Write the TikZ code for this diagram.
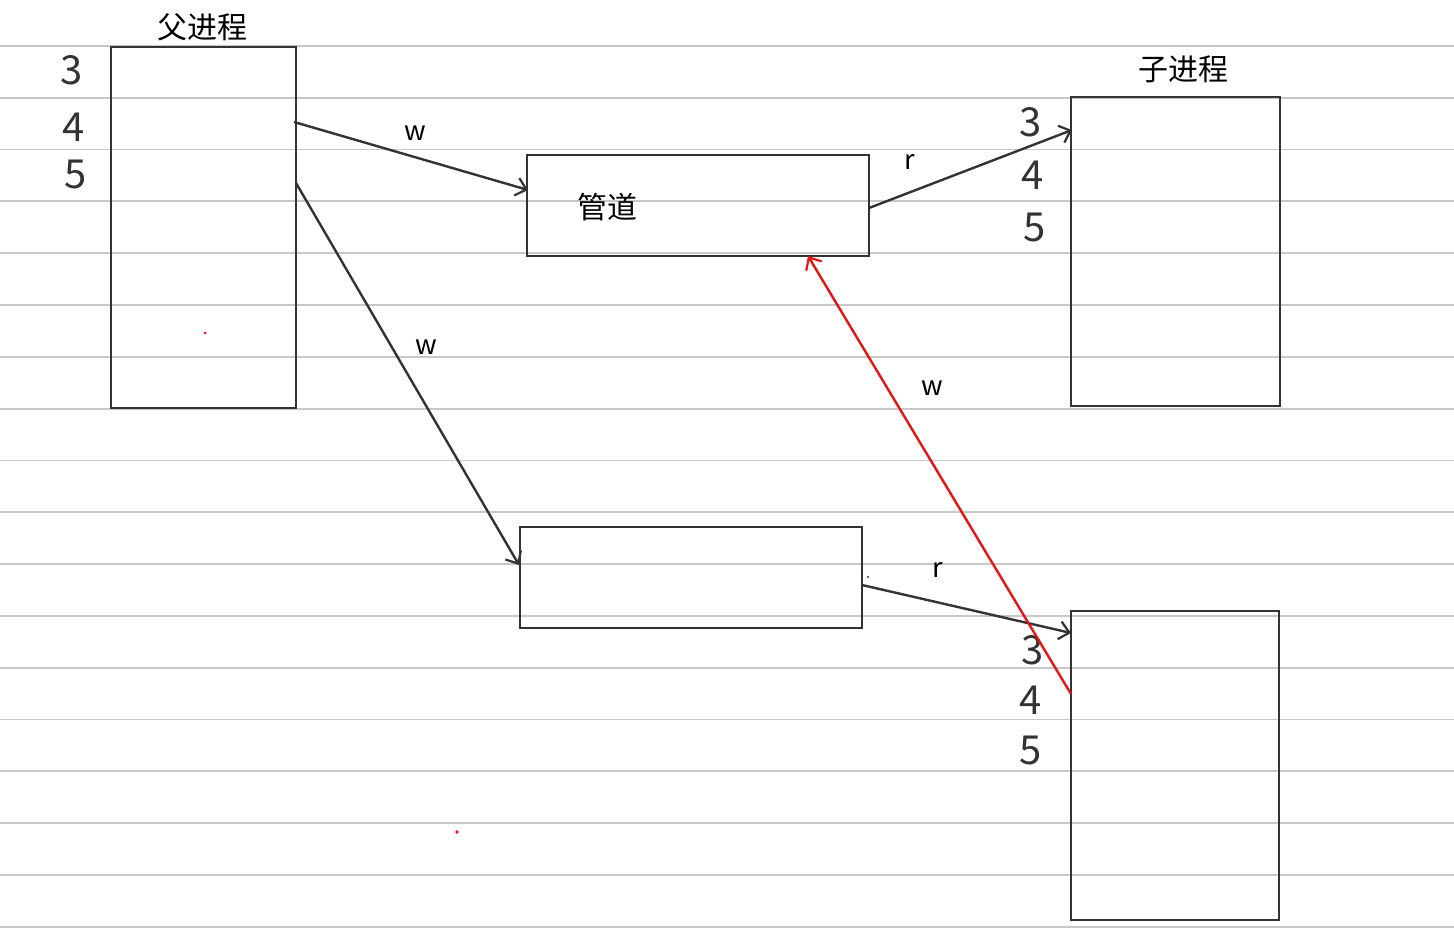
\documentclass[tikz,border=0pt]{standalone}
\usepackage{fontspec}
\setmainfont{Noto Sans CJK SC}
\newfontfamily\cjk{Noto Sans CJK SC}
\usetikzlibrary{arrows.meta}
\definecolor{rule}{RGB}{200,200,200}
\definecolor{ink}{RGB}{51,51,51}
\definecolor{redink}{RGB}{230,20,20}
\tikzset{
  x=1pt, y=-1pt,
  boxnode/.style={draw=ink, line width=2.8pt, inner sep=0pt},
  link/.style={draw=ink, line width=2.4pt, -{Straight Barb[length=10pt,width=18pt,line width=2.2pt]}},
  redlink/.style={draw=redink, line width=2.4pt, -{Straight Barb[length=10pt,width=18pt,line width=2.2pt]}},
  lbl/.style={inner sep=0pt, font=\fontsize{27}{29}\selectfont},
  title/.style={inner sep=0pt, font=\cjk\fontsize{30}{32}\selectfont},
  digit/.style={inner sep=0pt, text=ink, font=\fontsize{40}{42}\selectfont},
}
\begin{document}
\begin{tikzpicture}
\useasboundingbox (0,0) rectangle (1454,941);
\fill[white] (0,0) rectangle (1454,941);
% ruled lines
\foreach \k in {0,...,17}{
  \draw[rule, line width=1.8pt] (0,{46+51.8*\k}) -- (1454,{46+51.8*\k});
}
% boxes
\node[boxnode, minimum width=185pt, minimum height=361pt] (parent) at (203.5,227.5) {};
\node[boxnode, minimum width=342pt, minimum height=101pt] (pipe1) at (698,205.5) {};
\node[boxnode, minimum width=342pt, minimum height=101pt] (pipe2) at (691,577.5) {};
\node[boxnode, minimum width=209pt, minimum height=309pt] (child1) at (1175.5,251.5) {};
\node[boxnode, minimum width=208pt, minimum height=309pt] (child2) at (1175,765.5) {};
% titles
\node[title] (ptitle) at (202,27) {父进程};
\node[title] (ctitle) at (1183,69) {子进程};
\node[title] (pipetext) at (607,207) {管道};
% digits
\node[digit] (p3) at (72,70) {3};
\node[digit] (p4) at (74,127) {4};
\node[digit] (p5) at (76,175) {5};
\node[digit] (c13) at (1031,122) {3};
\node[digit] (c14) at (1033,175) {4};
\node[digit] (c15) at (1035,228) {5};
\node[digit] (c23) at (1033,650) {3};
\node[digit] (c24) at (1031,700) {4};
\node[digit] (c25) at (1031,750) {5};
% connector endpoints
\coordinate (a1) at (294,122);
\coordinate (a1e) at (528,190);
\coordinate (a2) at (296,183);
\coordinate (a2e) at (519,565);
\coordinate (b1) at (869,208);
\coordinate (b1e) at (1072,130);
\coordinate (b2) at (862,585);
\coordinate (b2e) at (1071,633);
\coordinate (rs) at (1071,694);
\coordinate (re) at (808,256);
\draw[link] (a1) -- (a1e);
\draw[link] (a2) -- (a2e);
\draw[link] (b1) -- (b1e);
\draw[link] (b2) -- (b2e);
\draw[redlink] (rs) -- (re);
% labels
\node[lbl] (w1) at (415,133) {w};
\node[lbl] (w2) at (426,347) {w};
\node[lbl] (r1) at (910,162) {r};
\node[lbl] (r2) at (938,570) {r};
\node[lbl] (w3) at (932,388) {w};
% specks
\fill[redink] (205,333) circle (1.5pt);
\fill[redink] (457,832) circle (1.8pt);
\fill[ink] (868,577) circle (1.2pt);
\end{tikzpicture}
\end{document}
